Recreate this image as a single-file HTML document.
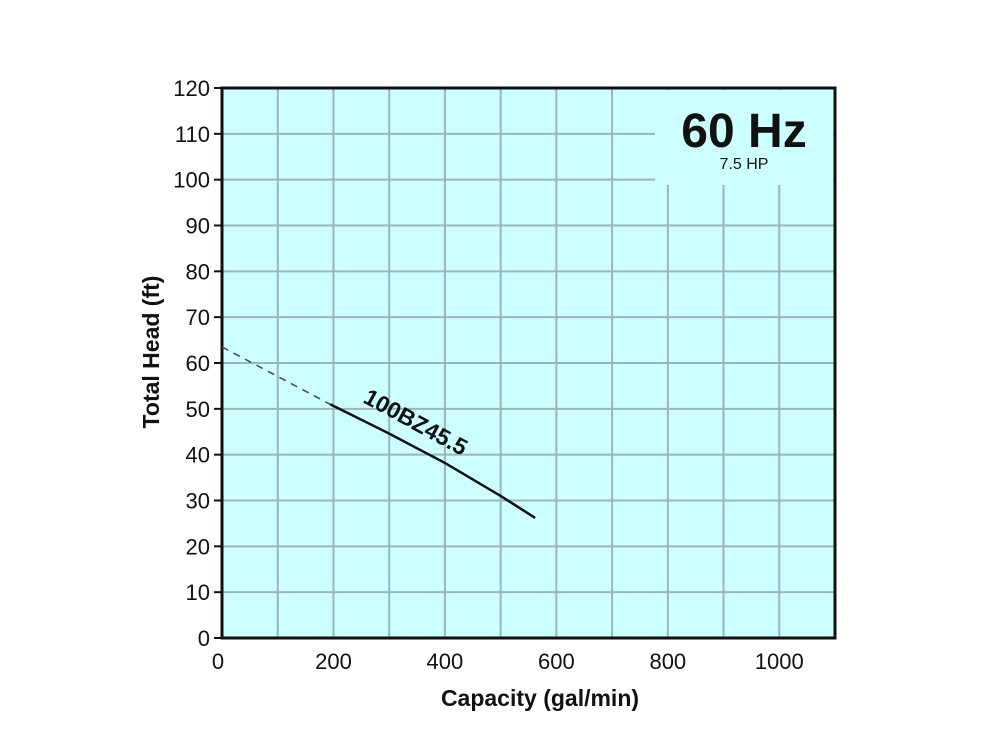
<!DOCTYPE html>
<html><head><meta charset="utf-8"><style>body{margin:0;background:#fff}svg{display:block;font-family:"Liberation Sans",sans-serif}</style></head>
<body>
<svg id="c" width="1000" height="750"></svg>
<script>
const xTicks=[0,200,400,600,800,1000];
const yTicks=[0,10,20,30,40,50,60,70,80,90,100,110,120];
const dashedQ=[0,194];
const dashedH=[63.5,51];
const solidQ=[194,300,400,500,562];
const solidH=[51,44.6,38.2,31.0,26.2];
const L=222,R=835,T=88,B=638,XMAX=1100,YMAX=120;
const X=v=>L+(v/XMAX)*(R-L), Y=v=>B-(v/YMAX)*(B-T);
const s=document.getElementById('c'),NS='http://www.w3.org/2000/svg';
function el(t,a,p){const e=document.createElementNS(NS,t);for(const k in a)e.setAttribute(k,a[k]);(p||s).appendChild(e);return e;}
let r=el('rect',{x:L,y:T,width:R-L,height:B-T,fill:'#ccffff'});

for(let v=100;v<XMAX;v+=100){let g=el('line',{x1:X(v),x2:X(v),y1:T,y2:B,stroke:'#9db4b8','stroke-width':2});}
yTicks.forEach(v=>{if(v>0&&v<YMAX){let g=el('line',{x1:L,x2:R,y1:Y(v),y2:Y(v),stroke:'#9db4b8','stroke-width':2});}});
let m=el('rect',{x:655,y:T+2,width:R-657,height:95,fill:'#ccffff'});

let f=el('rect',{x:L,y:T,width:R-L,height:B-T,fill:'none',stroke:'#111','stroke-width':3});

yTicks.forEach(v=>{let t=el('text',{x:L-12,y:Y(v)+8,'text-anchor':'end','font-size':22,fill:'#111'});t.textContent=v;
let k=el('line',{x1:L-8,x2:L,y1:Y(v),y2:Y(v),stroke:'#111','stroke-width':2});});
xTicks.forEach(v=>{let t=el('text',{x:X(v)-(v==0?4:0),y:B+31,'text-anchor':'middle','font-size':22,fill:'#111'});t.textContent=v;});
let d=el('polyline',{points:dashedQ.map((q,i)=>X(q)+','+Y(dashedH[i])).join(' '),fill:'none',stroke:'#445','stroke-width':1.5,'stroke-dasharray':'7,6'});

let p=el('polyline',{points:solidQ.map((q,i)=>X(q)+','+Y(solidH[i])).join(' '),fill:'none',stroke:'#111','stroke-width':2.5});

let lb=el('text',{x:0,y:0,'font-size':23,'font-weight':'bold',fill:'#111','text-anchor':'middle',transform:'translate(412,429) rotate(28.5)'});lb.textContent='100BZ45.5';

let h=el('text',{x:744,y:147,'text-anchor':'middle','font-size':48,'font-weight':'bold',fill:'#111'});h.textContent='60 Hz';

let hp=el('text',{x:744,y:169,'text-anchor':'middle','font-size':16,fill:'#111'});hp.textContent='7.5 HP';

let xt=el('text',{x:540,y:706,'text-anchor':'middle','font-size':23,'font-weight':'bold',fill:'#111'});xt.textContent='Capacity (gal/min)';

let yt=el('text',{x:0,y:0,'text-anchor':'middle','font-size':23,'font-weight':'bold',fill:'#111',transform:'translate(159,352) rotate(-90)'});yt.textContent='Total Head (ft)';

</script>
</body></html>
